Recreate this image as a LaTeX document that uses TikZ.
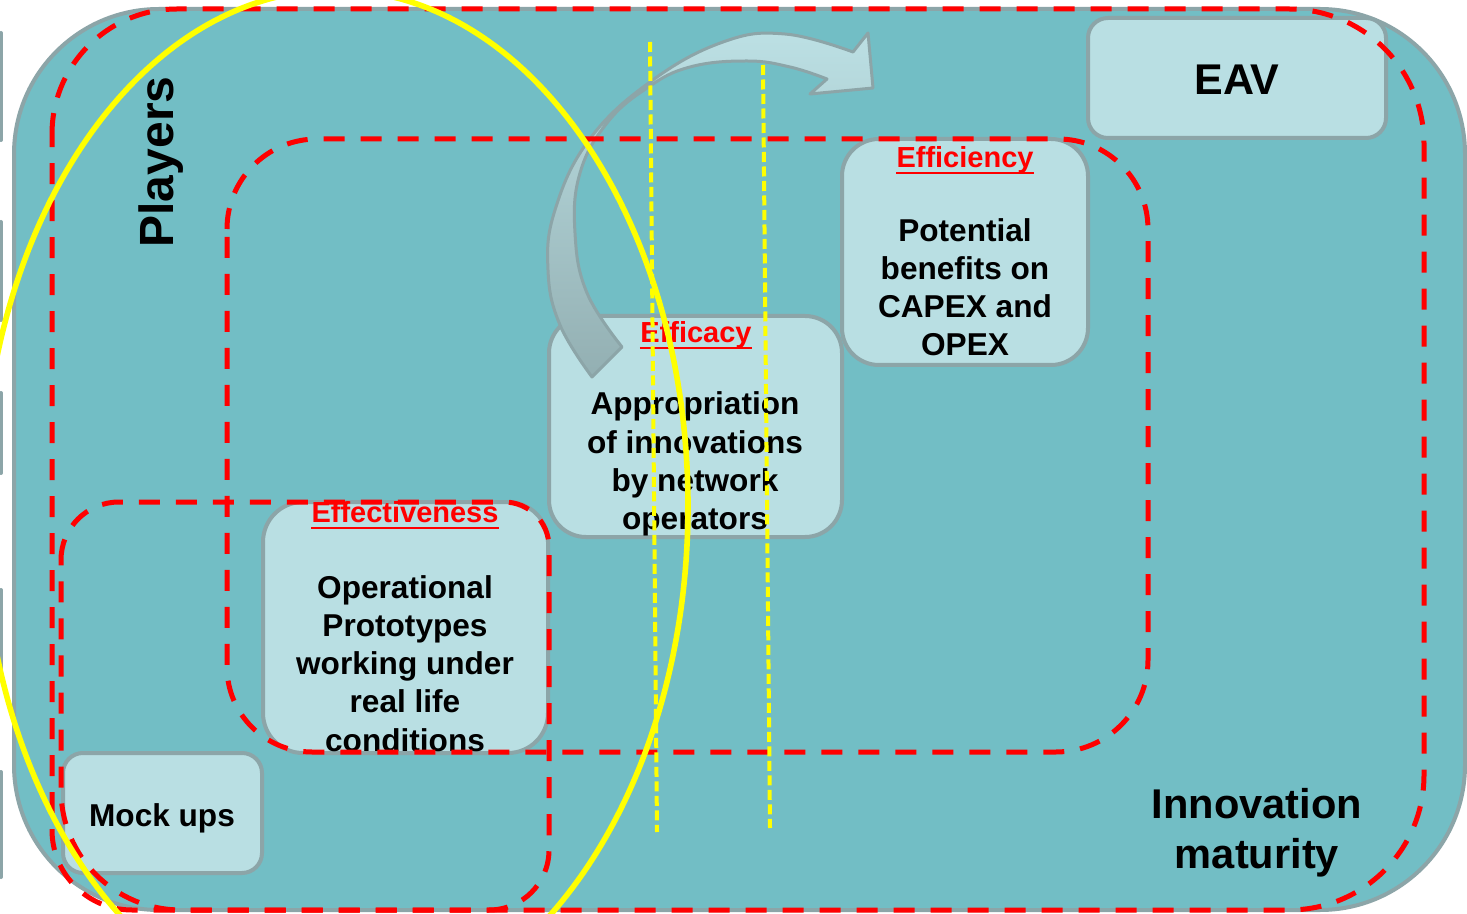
\documentclass[tikz,border=0pt]{standalone}
\usepackage{fontspec}
\setmainfont{Liberation Sans}
\definecolor{bgteal}{HTML}{72BEC5}
\definecolor{boxlight}{HTML}{B9DFE3}
\definecolor{edgegray}{HTML}{8CA5A8}
\definecolor{arrowhi}{HTML}{BCE0E4}
\definecolor{arrowlo}{HTML}{93AFB2}
\definecolor{markred}{HTML}{FF0000}
\definecolor{markyellow}{HTML}{FFFF00}

% rounded rectangle with its own radius at each corner (y axis points down)
% #1,#2 top-left  #3,#4 bottom-right  #5..#8 radii TL, TR, BR, BL
\newcommand\roundbox[8]{%
  ({#1},{#2+#5}) arc[start angle=180,end angle=270,radius=#5]
  -- ({#3-#6},{#2}) arc[start angle=270,end angle=360,radius=#6]
  -- ({#3},{#4-#7}) arc[start angle=0,end angle=90,radius=#7]
  -- ({#1+#8},{#4}) arc[start angle=90,end angle=180,radius=#8]
  -- cycle}

\tikzset{
  panel/.style={draw=edgegray, line width=2pt, fill=boxlight},
  reddash/.style={draw=markred, line width=2.5pt, dash pattern=on 10.5pt off 8pt},
  yeldash/.style={draw=markyellow, line width=2pt, dash pattern=on 5pt off 2.25pt},
  yelring/.style={draw=markyellow, line width=2.8pt},
  bodytxt/.style={inner sep=0pt, anchor=base, font=\bfseries\fontsize{15.8}{19}\selectfont},
  headtxt/.style={inner sep=0pt, anchor=base, text=markred, font=\bfseries\fontsize{14.5}{17}\selectfont},
  headline/.style={draw=markred, line width=1.3pt},
  sidebar/.style={draw=edgegray, line width=2pt, line cap=round},
}

\begin{document}
\begin{tikzpicture}[x=0.5pt, y=-0.5pt]
\useasboundingbox (0,0) rectangle (1467,914);
\fill[white] (0,0) rectangle (1467,914);

% slim marks along the left margin
\foreach \a/\b in {33/140, 222/320, 393/473, 590/670, 772/877}
  \draw[sidebar] (1,\a) -- (1,\b);

% main panel
\draw[draw=edgegray, line width=2pt, fill=bgteal, rounded corners=72.5pt]
  (14,9) rectangle (1465,910);

% stage boxes
\draw[panel, rounded corners=10pt] (1088,18) rectangle (1386,138);
\draw[panel, rounded corners=18.5pt] (842,139) rectangle (1088,365);
\draw[panel, rounded corners=18.5pt] (549,316) rectangle (842,537);
\draw[panel, rounded corners=20pt] (263,502) rectangle (548,753);
\draw[panel, rounded corners=10pt] (63,753) rectangle (262,873);

% curved progression arrow
\path[draw=edgegray, line width=1.5pt, line join=round,
      top color=arrowhi, bottom color=arrowlo]
  plot[smooth, tension=0.7] coordinates {(592,377) (560,325) (548,270) (555,210)
        (589,140) (650,82) (723,42) (785,34) (853,52)}
  -- (868,33) -- (873,88) -- (810,94)
  -- plot[smooth, tension=0.7] coordinates {(827,79) (790,67) (747,61) (690,67)
        (647,88) (607,123) (580,173) (575,233) (587,293) (622,347)}
  -- cycle;

% labels
\node[inner sep=0pt, anchor=base, rotate=90,
      font=\bfseries\fontsize{24}{28}\selectfont] (players) at (173,162) {Players};
\node[inner sep=0pt, anchor=base,
      font=\bfseries\fontsize{21.5}{25}\selectfont] (eav) at (1237,95) {EAV};

\node[headtxt] (efficiency) at (965,168) {Efficiency};
\draw[headline] ([yshift=-2.5pt]efficiency.base west) -- ([yshift=-2.5pt]efficiency.base east);
\foreach \t [count=\i] in {Potential, benefits on, CAPEX and, OPEX}
  \node[bodytxt] (benefit-\i) at (965,{242+38*(\i-1)}) {\t};

\node[headtxt] (efficacy) at (696,343) {Efficacy};
\draw[headline] ([yshift=-2.5pt]efficacy.base west) -- ([yshift=-2.5pt]efficacy.base east);
\foreach \t [count=\i] in {Appropriation, of innovations, by network, operators}
  \node[bodytxt] (approp-\i) at (695,{415+38.3*(\i-1)}) {\t};

\node[headtxt] (effectiveness) at (405,523) {Effectiveness};
\draw[headline] ([yshift=-2.5pt]effectiveness.base west) -- ([yshift=-2.5pt]effectiveness.base east);
\foreach \t [count=\i] in {Operational, Prototypes, working under, real life, conditions}
  \node[bodytxt] (proto-\i) at (405,{598+38.3*(\i-1)}) {\t};

\node[bodytxt] (mockups) at (162,826) {Mock ups};

\node[inner sep=0pt, anchor=base,
      font=\bfseries\fontsize{20.8}{25}\selectfont] (innov) at (1257,818) {Innovation};
\node[inner sep=0pt, anchor=base,
      font=\bfseries\fontsize{20.8}{25}\selectfont] (matur) at (1257,868) {maturity};

% dashed scope outlines
\draw[reddash] \roundbox{52}{9}{1424}{910}{125}{135}{135}{80};
\draw[reddash] \roundbox{227}{139}{1148}{752}{90}{90}{92}{85};
\draw[reddash] \roundbox{61}{502}{549}{910}{58}{45}{60}{120};

% yellow highlights
\coordinate (ya1) at (650,42);  \coordinate (ya2) at (657,832);
\coordinate (yb1) at (763,65);  \coordinate (yb2) at (770,828);
\draw[yeldash] (ya1) -- (ya2);
\draw[yeldash] (yb1) -- (yb2);
\draw[yelring] (335,506) ellipse [x radius=353, y radius=516];
\end{tikzpicture}
\end{document}
